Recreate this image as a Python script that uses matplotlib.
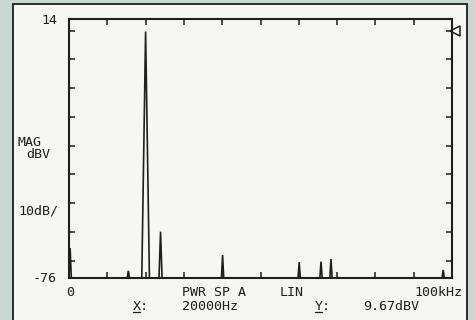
import matplotlib
matplotlib.use("Agg")
import matplotlib.pyplot as plt
from matplotlib.patches import Rectangle

# Spectrum peaks (frequency in kHz, magnitude in dBV)
peak_freq_khz = [0.3, 15.5, 20.0, 23.9, 40.1, 60.1, 65.8, 68.4, 97.7]
peak_level_dbv = [-65.6, -73.5, 9.67, -59.9, -68.0, -70.5, -70.3, -69.4, -73.2]
peak_halfwidth_khz = [0.3, 0.3, 1.0, 0.4, 0.3, 0.3, 0.3, 0.3, 0.3]

x_ticks_khz = list(range(0, 101, 10))
y_ticks_dbv = list(range(-70, 11, 10))
y_top, y_bottom = 14, -76
x_left, x_right = 0, 100

marker_x = "20000Hz"
marker_y = "9.67dBV"

W, H, DPI = 475, 320, 100
fig = plt.figure(figsize=(W / DPI, H / DPI), dpi=DPI)
fig.patch.set_facecolor("#c9d8d2")

ink = "#1e1e1e"
paper = "#f6f6f3"

# Paper panel with dark border, kept behind the axes
fig.patches.append(Rectangle((13 / W, -0.05), (467 - 13) / W, 1.05 - 3.8 / H,
                             transform=fig.transFigure, facecolor=paper,
                             edgecolor=ink, linewidth=1.3, zorder=-10))

ax = fig.add_axes([69 / W, 1 - 278 / H, (452 - 69) / W, (278 - 19) / H])
ax.set_zorder(5)
ax.set_facecolor(paper)
ax.set_xlim(x_left, x_right)
ax.set_ylim(y_bottom, y_top)
for s in ax.spines.values():
    s.set_linewidth(1.5)
    s.set_color(ink)
ax.set_xticks(x_ticks_khz)
ax.set_yticks(y_ticks_dbv)
ax.tick_params(direction="in", length=4, width=1.1, color=ink,
               top=True, right=True, labelbottom=False, labelleft=False)

# Build the trace: floor with a narrow spike at each peak
tx, ty = [x_left], [y_bottom]
for f, lvl, hw in zip(peak_freq_khz, peak_level_dbv, peak_halfwidth_khz):
    if f - hw > x_left:
        tx.append(f - hw); ty.append(y_bottom)
    tx.append(f); ty.append(lvl)
    tx.append(f + hw); ty.append(y_bottom)
tx.append(x_right); ty.append(y_bottom)
ax.plot(tx, ty, color=ink, linewidth=1.2, solid_joinstyle="miter", zorder=3)

# Reference level marker on the right edge
ax.plot([x_right + 0.9], [peak_level_dbv[2]], marker="<", markersize=7.5,
        markerfacecolor=paper, markeredgecolor=ink, markeredgewidth=1.1,
        clip_on=False)

font = dict(family="DejaVu Sans Mono", fontsize=9.6, color=ink)

def px(x, y, s, ha="left", va="center", **kw):
    fig.text(x / W, 1 - y / H, s, ha=ha, va=va, **font, **kw)

px(57, 21, str(y_top), ha="right")
px(57, 278, str(y_bottom), ha="right")
px(17, 143, "MAG")
px(26, 154, "dBV")
px(18, 211, "10dB/")
px(70, 292, str(x_left), ha="center")
px(182, 292, "PWR SP A")
px(280, 292, "LIN")
px(462, 292, "100kHz", ha="right")
px(133, 306, "X:")
px(182, 306, marker_x)
px(315, 306, "Y:")
px(363, 306, marker_y)

# Underlines under the X and Y readout letters
for x0 in (133, 315):
    fig.add_artist(plt.Line2D([x0 / W, (x0 + 7) / W], [1 - 312 / H, 1 - 312 / H],
                              color=ink, linewidth=0.9))

fig.savefig("out.png", dpi=DPI, facecolor=fig.get_facecolor())
